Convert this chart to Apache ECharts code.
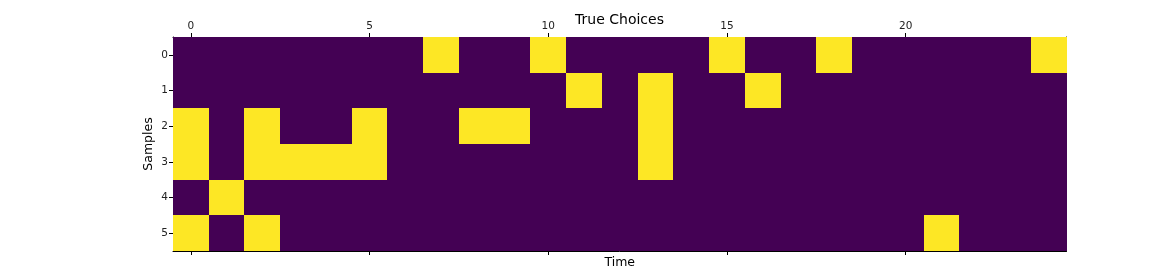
<!DOCTYPE html>
<html><head><meta charset="utf-8">
<script src="https://cdn.jsdelivr.net/npm/echarts@6/dist/echarts.min.js"></script>
<style>html,body{margin:0;padding:0;background:#fff}#c{width:1152px;height:276px}</style>
</head><body><div id="c"></div>
<script>
const timeSteps = Array.from({length:25},(_,i)=>String(i));
const samples = ['0','1','2','3','4','5'];
// yellow (1) cells per sample row: list of time indices
const row0 = [7,10,15,18,24];
const row1 = [11,13,16];
const row2 = [0,2,5,8,9,13];
const row3 = [0,2,3,4,5,13];
const row4 = [1];
const row5 = [0,2,21];
const rows = [row0,row1,row2,row3,row4,row5];
const colors = ['#440154','#fde725'];

const data = [];
rows.forEach((r,y)=>{ for(let x=0;x<25;x++){ data.push([x,y,r.includes(x)?1:0]); } });

const font = 'DejaVu Sans';
const txt = '#222';
const chart = echarts.init(document.getElementById('c'));
chart.setOption({
  animation:false,
  title:{text:'True Choices',left:614.5,textAlign:'center',top:8,textStyle:{fontFamily:font,fontSize:14,fontWeight:'normal',color:'#000'}},
  grid:{left:173,top:37,width:893.5,height:214,containLabel:false},
  xAxis:[
    {type:'category',data:timeSteps,position:'top',
     axisLine:{show:true,lineStyle:{color:'#000',width:1}},
     axisTick:{show:true,alignWithLabel:true,interval:(i)=>i%5===0,length:4,lineStyle:{color:'#000'}},
     axisLabel:{show:true,interval:(i)=>i%5===0,fontFamily:font,fontSize:10.5,color:txt,margin:5},
     splitLine:{show:false}},
    {type:'category',data:timeSteps,position:'bottom',
     name:'Time',nameLocation:'middle',nameGap:5,nameTextStyle:{fontFamily:font,fontSize:12.5,color:'#000'},
     axisLine:{show:true,lineStyle:{color:'#000',width:1}},
     axisTick:{show:true,alignWithLabel:true,interval:(i)=>i%5===0,length:4,lineStyle:{color:'#000'}},
     axisLabel:{show:false},splitLine:{show:false}}
  ],
  yAxis:[
    {type:'category',data:samples,inverse:true,position:'left',
     name:'Samples',nameLocation:'middle',nameGap:18,nameRotate:90,nameMoveOverlap:false,nameTextStyle:{fontFamily:font,fontSize:12.5,color:'#000'},
     axisLine:{show:true,lineStyle:{color:'#000',width:1}},
     axisTick:{show:true,alignWithLabel:true,length:4,lineStyle:{color:'#000'}},
     axisLabel:{fontFamily:font,fontSize:10.5,color:txt,margin:5},splitLine:{show:false}},
    {type:'category',data:samples,inverse:true,position:'right',
     axisLine:{show:true,lineStyle:{color:'#000',width:1}},
     axisTick:{show:false},axisLabel:{show:false},splitLine:{show:false}}
  ],
  series:[{type:'custom',xAxisIndex:0,yAxisIndex:0,data:data,z:1,
    renderItem:(params,api)=>{
      const c = api.coord([api.value(0),api.value(1)]);
      const s = api.size([1,1]);
      const x0 = Math.round(c[0]-s[0]/2), x1 = Math.round(c[0]+s[0]/2);
      const y0 = Math.round(c[1]-s[1]/2), y1 = Math.round(c[1]+s[1]/2);
      return {type:'rect',shape:{x:x0,y:y0,width:x1-x0,height:y1-y0},style:{fill:colors[api.value(2)]}};
    }}]
});
</script></body></html>
